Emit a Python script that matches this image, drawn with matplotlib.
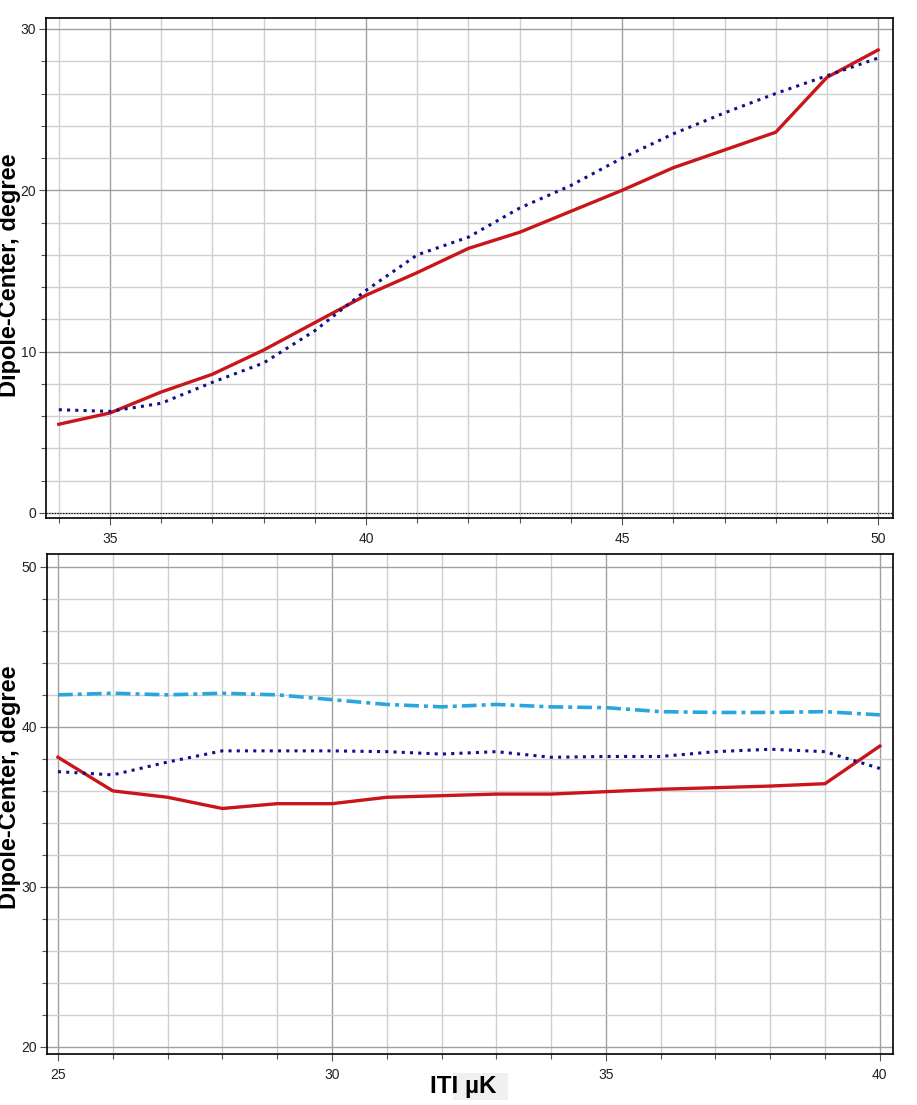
import matplotlib
matplotlib.use('Agg')
import matplotlib.pyplot as plt
from matplotlib.ticker import MultipleLocator
from matplotlib.patches import Rectangle

plt.rcParams['font.family'] = ['Liberation Sans', 'DejaVu Sans']

# upper panel
x_top = [34, 35, 36, 37, 38, 39, 40, 41, 42, 43, 44, 45, 46, 47, 48, 49, 50]
red_top = [5.5, 6.2, 7.5, 8.6, 10.1, 11.8, 13.5, 14.9, 16.4, 17.4, 18.7,
           20.0, 21.4, 22.5, 23.6, 27.0, 28.7]
blue_top = [6.4, 6.3, 6.8, 8.1, 9.3, 11.3, 13.8, 16.0, 17.1, 18.9, 20.3,
            22.0, 23.5, 24.8, 26.0, 27.1, 28.2]

# lower panel
x_bot = [25, 26, 27, 28, 29, 30, 31, 32, 33, 34, 35, 36, 37, 38, 39, 40]
cyan_bot = [42.0, 42.1, 42.0, 42.1, 42.0, 41.7, 41.4, 41.25, 41.4, 41.25,
            41.2, 40.95, 40.9, 40.9, 40.95, 40.75]
blue_bot = [37.2, 37.0, 37.8, 38.5, 38.5, 38.5, 38.45, 38.3, 38.45, 38.1,
            38.15, 38.15, 38.45, 38.6, 38.45, 37.4]
red_bot = [38.1, 36.0, 35.6, 34.9, 35.2, 35.2, 35.6, 35.7, 35.8, 35.8,
           35.95, 36.1, 36.2, 36.3, 36.45, 38.8]

RED = '#C8161B'
NAVY = '#10108A'
CYAN = '#2AA6DC'
DOTS = (0, (1.0, 1.7))
DASHDOT = (0, (4.1, 1.4, 1.1, 1.4))

W, H = 917, 1105
fig = plt.figure(figsize=(W / 100, H / 100), dpi=100)


def px_axes(left, top, right, bottom):
    return fig.add_axes([left / W, 1 - bottom / H, (right - left) / W, (bottom - top) / H])


def style(ax, xmaj, xmin, ymaj, ymin):
    ax.xaxis.set_major_locator(MultipleLocator(xmaj))
    ax.xaxis.set_minor_locator(MultipleLocator(xmin))
    ax.yaxis.set_major_locator(MultipleLocator(ymaj))
    ax.yaxis.set_minor_locator(MultipleLocator(ymin))
    ax.grid(which='major', color='#a0a0a0', linewidth=1.0)
    ax.grid(which='minor', color='#cfcfcf', linewidth=1.0)
    ax.set_axisbelow(True)
    ax.tick_params(which='major', direction='out', length=5, width=0.8,
                   color='#555555', labelsize=10, labelcolor='#222222')
    ax.tick_params(which='minor', direction='out', length=3.5, width=0.8,
                   color='#555555')
    ax.tick_params(axis='x', which='major', pad=5)
    ax.tick_params(axis='y', which='major', pad=2)
    for side in ['top', 'right', 'left', 'bottom']:
        ax.spines[side].set_linewidth(1.2)
        ax.spines[side].set_color('black')


ax1 = px_axes(46, 18, 893, 518)
ax1.plot(x_top, red_top, color=RED, lw=2.4, zorder=3)
ax1.plot(x_top, blue_top, color=NAVY, lw=2.2, linestyle=DOTS,
         dash_capstyle='butt', zorder=4)
ax1.axhline(0, color='black', lw=0.8, linestyle=(0, (1, 1.5)), zorder=2)
ax1.set_xlim(33.75, 50.29)
ax1.set_ylim(-0.31, 30.68)
style(ax1, 5, 1, 10, 2)

ax2 = px_axes(47, 554, 893, 1054)
ax2.plot(x_bot, cyan_bot, color=CYAN, lw=2.6, linestyle=DASHDOT, zorder=3)
ax2.plot(x_bot, blue_bot, color=NAVY, lw=2.2, linestyle=DOTS,
         dash_capstyle='butt', zorder=4)
ax2.plot(x_bot, red_bot, color=RED, lw=2.4, zorder=3)
ax2.set_xlim(24.8, 40.24)
ax2.set_ylim(19.56, 50.8)
style(ax2, 5, 1, 10, 2)

for yc in (275, 787):
    fig.text(9.5 / W, 1 - yc / H, 'Dipole-Center, degree', rotation=90,
             ha='center', va='center', fontsize=17, fontweight='bold')

# light grey patch behind the axis title
fig.patches.append(Rectangle((453 / W, 1 - 1100 / H), 55 / W, 27 / H,
                             transform=fig.transFigure, facecolor='#f0f0f0',
                             edgecolor='none', zorder=0))
fig.text(463 / W, 1 - 1086 / H, 'ITI µK', ha='center', va='center',
         fontsize=17.5, fontweight='bold', zorder=2)

fig.savefig('out.png', dpi=100)
